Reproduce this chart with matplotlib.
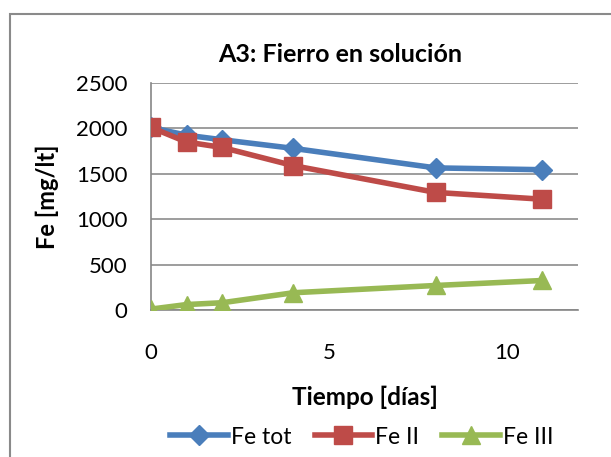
import matplotlib.pyplot as plt
from matplotlib.patches import Rectangle

# Iron concentration over time, sample A3
dias = [0, 1, 2, 4, 8, 11]
fe_tot = [2010, 1925, 1875, 1780, 1565, 1545]
fe_ii = [2010, 1850, 1790, 1590, 1295, 1220]
fe_iii = [10, 60, 80, 190, 270, 325]

plt.rcParams['font.family'] = ['Lato', 'DejaVu Sans']

W, H = 611, 457
fig = plt.figure(figsize=(W / 100, H / 100), dpi=100)
ax = fig.add_axes([151 / W, 1 - 310 / H, (578 - 151) / W, (310 - 83) / H])

ax.plot(dias, fe_tot, color='#4A7EBB', lw=4, marker='D', ms=10, label='Fe tot', zorder=3)
ax.plot(dias, fe_ii, color='#BE4B48', lw=4, marker='s', ms=13, label='Fe II', zorder=4)
ax.plot(dias, fe_iii, color='#98B954', lw=4, marker='^', ms=13, label='Fe III', zorder=3)

ax.set_xlim(0, 12)
ax.set_ylim(0, 2500)
ax.set_xticks([0, 5, 10])
ax.set_yticks(range(0, 2501, 500))
ax.yaxis.grid(True, color='#8C8C8C', lw=1.2)
ax.set_axisbelow(True)
for s in ['top', 'right']:
    ax.spines[s].set_visible(False)
for s in ['left', 'bottom']:
    ax.spines[s].set_color('#868686')
    ax.spines[s].set_linewidth(1.2)
ax.tick_params(length=0, labelsize=16)
ax.tick_params(axis='y', pad=17)
ax.tick_params(axis='x', pad=24)

fig.text(340 / W, 1 - 55 / H, 'A3: Fierro en solución', fontsize=18,
         fontweight='bold', ha='center', va='center')
ax.set_xlabel('Tiempo [días]', fontsize=17.5, fontweight='bold', labelpad=16)
ax.set_ylabel('Fe [mg/lt]', fontsize=17, fontweight='bold', labelpad=12)

ax.legend(loc='center', bbox_to_anchor=((362 - 151) / (578 - 151), 1 - (437 - 83) / (310 - 83)),
          ncol=3, frameon=False, fontsize=16.5, handlelength=2.5, columnspacing=1.0,
          handletextpad=0.15)

# chart-area border, clipped by the image edge on the right and bottom
fig.patches.append(Rectangle((9.5 / W, -0.05), 1.1, 1.05 - 14 / H,
                             transform=fig.transFigure, fill=False,
                             edgecolor='#8A8A8A', lw=1.5))

fig.savefig('out.png')
